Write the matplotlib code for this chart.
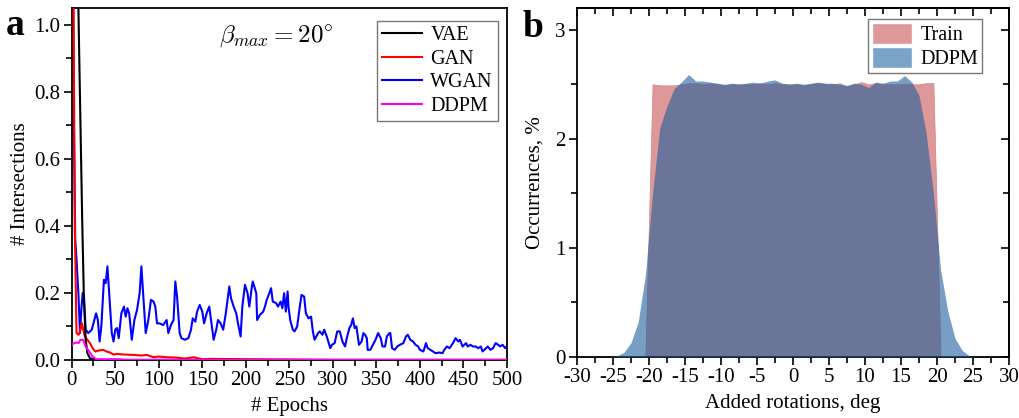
import matplotlib
matplotlib.use("Agg")
import matplotlib.pyplot as plt
from matplotlib.ticker import MultipleLocator, NullFormatter
from matplotlib.patches import Patch

plt.rcParams["font.family"] = ["Liberation Serif", "DejaVu Serif"]
plt.rcParams["mathtext.fontset"] = "cm"
plt.rcParams["axes.unicode_minus"] = False

# ---- panel a: intersections vs epochs ----
vae_epochs = [0, 7, 9, 12, 14, 16, 18, 21, 28, 500]
vae_vals = [3.0, 1.15, 0.85, 0.42, 0.18, 0.06, 0.02, 0.005, 0.0, 0.0]

gan_epochs = [0, 2, 3.5, 5.5, 8, 10, 11.5, 15, 18, 21, 24, 27, 31, 36, 40, 44, 48, 52, 60, 71, 80, 86, 94, 100, 109, 120, 130, 140, 150, 160, 200, 250, 300, 500]
gan_vals = [1.6, 1.1, 0.4, 0.08, 0.075, 0.09, 0.11, 0.07, 0.06, 0.05, 0.035, 0.025, 0.028, 0.03, 0.025, 0.022, 0.016, 0.018, 0.016, 0.015, 0.013, 0.015, 0.008, 0.01, 0.008, 0.007, 0.004, 0.008, 0.002, 0.003, 0.002, 0.001, 0.0, 0.0]

wgan_epochs = [0, 2.5, 4, 5.5, 7.6, 9.5, 11, 12.6, 14, 16, 19, 23, 26, 28, 30, 32, 34, 37, 39, 41,
               43, 46, 48, 50, 52, 54, 57, 60, 62, 64, 66, 69, 72, 75, 78, 80, 82, 85, 88, 91,
               94, 96, 98, 101, 105, 109, 111, 114, 117, 119, 121, 124, 126, 130, 134, 137, 139, 142, 144, 147,
               150, 152, 155, 158, 160, 163, 166, 168, 171, 174, 177, 181, 183, 186, 189, 191, 194, 196, 199, 202,
               204, 207, 208, 212, 213, 216, 220, 222, 224, 227, 229, 231, 235, 237, 240, 242, 244, 246, 248, 249,
               251, 254, 256, 259, 262, 264, 267, 269, 272, 275, 277, 279, 283, 285, 288, 290, 293, 297, 299, 302,
               305, 308, 311, 314, 316, 319, 321, 323, 325, 327, 330, 333, 335, 337, 339, 340, 343, 346, 349, 352,
               355, 357, 360, 362, 365, 366, 368, 371, 374, 377, 381, 384, 386, 389, 392, 395, 398, 400, 404, 407,
               409, 412, 415, 418, 422, 426, 428, 431, 434, 438, 441, 444, 446, 449, 453, 455, 458, 461, 464, 467,
               470, 472, 476, 478, 481, 484, 487, 490, 492, 495, 498, 500]
wgan_vals = [1.8, 0.7, 0.36, 0.3, 0.2, 0.08, 0.15, 0.2, 0.194, 0.09, 0.08, 0.09, 0.119, 0.139, 0.119, 0.055, 0.1, 0.239, 0.229, 0.279,
             0.199, 0.08, 0.055, 0.09, 0.095, 0.065, 0.139, 0.159, 0.129, 0.154, 0.139, 0.06, 0.119, 0.149, 0.199, 0.279, 0.199, 0.08, 0.119, 0.179,
             0.174, 0.159, 0.109, 0.109, 0.104, 0.119, 0.08, 0.104, 0.119, 0.234, 0.189, 0.08, 0.065, 0.06, 0.065, 0.09, 0.124, 0.114, 0.144, 0.164,
             0.144, 0.109, 0.139, 0.159, 0.119, 0.06, 0.09, 0.119, 0.109, 0.09, 0.139, 0.219, 0.184, 0.159, 0.139, 0.109, 0.07, 0.159, 0.224, 0.199,
             0.159, 0.219, 0.234, 0.199, 0.119, 0.134, 0.144, 0.159, 0.179, 0.199, 0.214, 0.174, 0.169, 0.159, 0.174, 0.154, 0.199, 0.144, 0.204, 0.159,
             0.119, 0.09, 0.085, 0.1, 0.159, 0.194, 0.189, 0.139, 0.124, 0.129, 0.085, 0.06, 0.08, 0.085, 0.075, 0.09, 0.07, 0.035, 0.045, 0.05,
             0.085, 0.085, 0.055, 0.04, 0.065, 0.095, 0.104, 0.124, 0.095, 0.1, 0.045, 0.055, 0.08, 0.075, 0.065, 0.03, 0.03, 0.045, 0.06, 0.08,
             0.065, 0.04, 0.04, 0.07, 0.08, 0.08, 0.035, 0.03, 0.04, 0.045, 0.05, 0.07, 0.075, 0.06, 0.055, 0.045, 0.04, 0.03, 0.025, 0.05,
             0.035, 0.03, 0.025, 0.02, 0.022, 0.02, 0.03, 0.04, 0.035, 0.05, 0.065, 0.055, 0.06, 0.04, 0.05, 0.04, 0.045, 0.04, 0.04, 0.035,
             0.04, 0.025, 0.035, 0.04, 0.03, 0.035, 0.05, 0.045, 0.04, 0.045, 0.035, 0.04]

ddpm_epochs = [0, 3, 6, 8, 10, 13, 16, 20, 24, 28, 35, 45, 55, 60, 500]
ddpm_vals = [0.045, 0.05, 0.052, 0.05, 0.06, 0.06, 0.04, 0.025, 0.01, 0.002, 0.002, 0.002, 0.002, 0.0, 0.0]

# ---- panel b: rotation histograms ----
rot_bins = [-29.5, -28.5, -27.5, -26.5, -25.5, -24.5, -23.5, -22.5, -21.5, -20.5, -19.5, -18.5, -17.5, -16.5, -15.5,
            -14.5, -13.5, -12.5, -11.5, -10.5, -9.5, -8.5, -7.5, -6.5, -5.5, -4.5, -3.5, -2.5, -1.5, -0.5,
            0.5, 1.5, 2.5, 3.5, 4.5, 5.5, 6.5, 7.5, 8.5, 9.5, 10.5, 11.5, 12.5, 13.5, 14.5,
            15.5, 16.5, 17.5, 18.5, 19.5, 20.5, 21.5, 22.5, 23.5, 24.5, 25.5, 26.5, 27.5, 28.5, 29.5]
train_occ = [0, 0, 0, 0, 0, 0, 0, 0, 0, 0, 2.50, 2.49, 2.49, 2.49, 2.50,
             2.51, 2.51, 2.50, 2.51, 2.50, 2.49, 2.50, 2.50, 2.50, 2.50, 2.51, 2.50, 2.51, 2.50, 2.50,
             2.50, 2.49, 2.50, 2.51, 2.50, 2.50, 2.51, 2.48, 2.50, 2.52, 2.50, 2.51, 2.50, 2.50, 2.50,
             2.50, 2.50, 2.50, 2.51, 2.51, 0, 0, 0, 0, 0, 0, 0, 0, 0, 0]
ddpm_occ = [0, 0, 0, 0, 0, 0.01, 0.04, 0.13, 0.32, 0.75, 1.50, 2.10, 2.30, 2.46, 2.52,
            2.59, 2.53, 2.53, 2.52, 2.51, 2.50, 2.51, 2.50, 2.51, 2.52, 2.51, 2.53, 2.54, 2.51, 2.50,
            2.51, 2.50, 2.51, 2.52, 2.51, 2.51, 2.50, 2.49, 2.51, 2.50, 2.47, 2.52, 2.51, 2.53, 2.53,
            2.58, 2.52, 2.40, 2.05, 1.50, 0.80, 0.42, 0.17, 0.06, 0.01, 0, 0, 0, 0, 0]

FS = 15

fig = plt.figure(figsize=(10.19, 4.18), dpi=100)
ax1 = fig.add_axes([0.0704, 0.139, 0.4271, 0.842])
ax2 = fig.add_axes([0.5662, 0.146, 0.4240, 0.835])

lw = 1.5
ax1.plot(wgan_epochs, wgan_vals, color="#0000ff", lw=lw, label="WGAN", zorder=2)
ax1.plot(gan_epochs, gan_vals, color="#ff0000", lw=lw, label="GAN", zorder=3)
ax1.plot(vae_epochs, vae_vals, color="black", lw=lw, label="VAE", zorder=4)
ax1.plot(ddpm_epochs, ddpm_vals, color="#ff00ff", lw=lw, label="DDPM", zorder=5)
ax1.set_xlim(0, 500)
ax1.set_ylim(0, 1.05)
ax1.xaxis.set_major_locator(MultipleLocator(50))
ax1.xaxis.set_minor_locator(MultipleLocator(25))
ax1.yaxis.set_major_locator(MultipleLocator(0.2))
ax1.yaxis.set_minor_locator(MultipleLocator(0.1))
ax1.yaxis.set_major_formatter(plt.FuncFormatter(lambda v, p: f"{v:.1f}"))
ax1.set_xlabel("# Epochs", fontsize=FS, labelpad=5)
ax1.set_ylabel("# Intersections", fontsize=FS, labelpad=3)
ax1.tick_params(which="both", direction="out", width=1.2, labelsize=FS, pad=2)
ax1.tick_params(which="major", length=6)
ax1.tick_params(which="minor", length=4)
handles, labels = ax1.get_legend_handles_labels()
order = [labels.index(n) for n in ["VAE", "GAN", "WGAN", "DDPM"]]
leg1 = ax1.legend([handles[i] for i in order], [labels[i] for i in order], loc="upper right",
                  bbox_to_anchor=(0.979, 0.963), borderaxespad=0,
                  fontsize=14.5, handlelength=2.0, fancybox=False, edgecolor="#555555",
                  labelspacing=0.22, handletextpad=0.4, borderpad=0.25)
leg1.get_frame().set_linewidth(1.0)
ax1.text(0.469, 0.918, r"$\beta_{max}=20^{\circ}$", transform=ax1.transAxes, ha="center", va="center", fontsize=18)
fig.text(0.006, 0.94, "a", fontsize=27, fontweight="bold", va="center")

ax2.fill_between(rot_bins, train_occ, color="#de9899", lw=0.5, edgecolor="#c98688", label="Train", zorder=2)
ax2.fill_between(rot_bins, ddpm_occ, color="#1e5f9b", alpha=0.6, lw=0, label="DDPM", zorder=3)
ax2.set_xlim(-30, 30)
ax2.set_ylim(0, 3.2)
ax2.xaxis.set_major_locator(MultipleLocator(5))
ax2.xaxis.set_minor_locator(MultipleLocator(2.5))
ax2.yaxis.set_major_locator(MultipleLocator(1))
ax2.yaxis.set_minor_locator(MultipleLocator(0.5))
ax2.set_xlabel("Added rotations, deg", fontsize=FS, labelpad=5)
ax2.set_ylabel("Occurrences, %", fontsize=FS, labelpad=8)
ax2.tick_params(which="both", direction="out", width=1.2, labelsize=FS, pad=2)
ax2.tick_params(which="major", length=6)
ax2.tick_params(which="minor", length=4)
# mirrored ticks on top and right point into the plot
top = ax2.secondary_xaxis("top")
right = ax2.secondary_yaxis("right")
top.xaxis.set_major_locator(MultipleLocator(5))
top.xaxis.set_minor_locator(MultipleLocator(2.5))
right.yaxis.set_major_locator(MultipleLocator(1))
right.yaxis.set_minor_locator(MultipleLocator(0.5))
for sec in (top, right):
    sec.tick_params(which="both", direction="in", width=1.2, labelsize=0)
    sec.tick_params(which="major", length=6)
    sec.tick_params(which="minor", length=4)
top.xaxis.set_major_formatter(NullFormatter())
right.yaxis.set_major_formatter(NullFormatter())
leg2 = ax2.legend(handles=[Patch(facecolor="#de9899", edgecolor="white", label="Train"),
                           Patch(facecolor="#7aa3c8", edgecolor="white", label="DDPM")],
                  loc="upper right", bbox_to_anchor=(0.9375, 0.968), borderaxespad=0,
                  fontsize=14.5, handlelength=2.0, handleheight=1.2, fancybox=False,
                  edgecolor="#555555", labelspacing=0.1, handletextpad=0.4, borderpad=0.2)
leg2.get_frame().set_linewidth(1.0)
fig.text(0.513, 0.935, "b", fontsize=27, fontweight="bold", va="center")

for ax in (ax1, ax2, top, right):
    for s in ax.spines.values():
        s.set_linewidth(1.3)

fig.savefig("out.png", dpi=100)
